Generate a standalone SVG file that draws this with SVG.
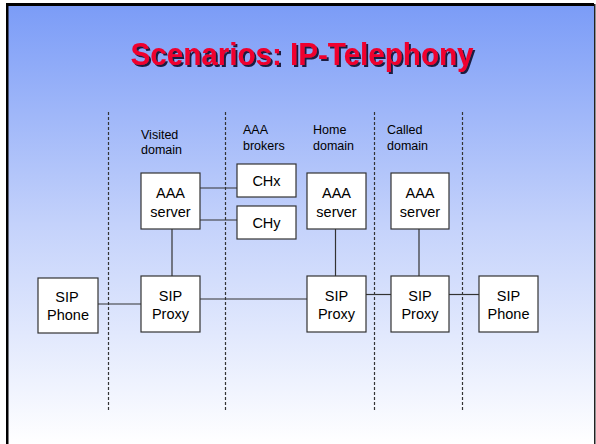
<svg xmlns="http://www.w3.org/2000/svg" width="596" height="444" viewBox="0 0 596 444">
<defs>
<linearGradient id="bg" x1="0" y1="0" x2="0" y2="1">
<stop offset="0" stop-color="#7b9cf7"/>
<stop offset="0.5" stop-color="#c4d2fb"/>
<stop offset="1" stop-color="#ffffff"/>
</linearGradient>
<filter id="sh" x="-5%" y="-20%" width="110%" height="140%">
<feDropShadow dx="2" dy="2" stdDeviation="0.3" flood-color="#1a1a40" flood-opacity="1"/>
</filter>
<style>
.box{fill:#ffffff;stroke:#333333;stroke-width:1.2}
.ln{stroke:#333333;stroke-width:1.2;fill:none}
.dash{stroke:#333333;stroke-width:1.2;stroke-dasharray:3,2;fill:none}
.t{font-family:"Liberation Sans",Arial,sans-serif;font-size:14.5px;fill:#000000;text-anchor:middle}
.lab{font-family:"Liberation Sans",Arial,sans-serif;font-size:12.5px;fill:#000000}
.title{font-family:"Liberation Sans",Arial,sans-serif;font-size:31px;font-weight:bold;text-anchor:middle;fill:#f0002e}
</style>
</defs>
<rect x="7" y="5" width="588" height="439" fill="url(#bg)"/>
<rect x="6" y="3" width="2.5" height="441" fill="#000000"/>
<rect x="6" y="3" width="588" height="3" fill="#000000"/>
<rect x="594" y="4" width="1.5" height="440" fill="#222222"/>
<g id="title">
<text class="title" x="302" y="65" filter="url(#sh)" textLength="343" lengthAdjust="spacingAndGlyphs">Scenarios: IP-Telephony</text>
</g>
<g id="separators">
<line class="dash" x1="108.5" y1="112" x2="108.5" y2="410"/>
<line class="dash" x1="225.5" y1="112" x2="225.5" y2="410"/>
<line class="dash" x1="374.5" y1="112" x2="374.5" y2="410"/>
<line class="dash" x1="462.5" y1="112" x2="462.5" y2="410"/>
</g>
<g id="labels">
<text class="lab" x="141" y="139">Visited</text>
<text class="lab" x="141" y="154">domain</text>
<text class="lab" x="243" y="134">AAA</text>
<text class="lab" x="243" y="150">brokers</text>
<text class="lab" x="313" y="134">Home</text>
<text class="lab" x="313" y="150">domain</text>
<text class="lab" x="387" y="134">Called</text>
<text class="lab" x="387" y="150">domain</text>
</g>
<g id="connectors">
<line class="ln" x1="200" y1="188" x2="237" y2="188"/>
<line class="ln" x1="200" y1="220" x2="237" y2="220"/>
<line class="ln" x1="172" y1="229" x2="172" y2="279"/>
<line class="ln" x1="335.5" y1="229" x2="335.5" y2="276"/>
<line class="ln" x1="419" y1="229" x2="419" y2="276"/>
<line class="ln" x1="98" y1="304" x2="141" y2="304"/>
<line class="ln" x1="200" y1="299" x2="307" y2="299"/>
<line class="ln" x1="366" y1="294.5" x2="391" y2="294.5"/>
<line class="ln" x1="449" y1="294.5" x2="479" y2="294.5"/>
</g>
<g id="aaa-visited">
<rect class="box" x="141" y="173" width="59" height="56"/>
<text class="t" x="170.5" y="198">AAA</text>
<text class="t" x="170.5" y="217">server</text>
</g>
<g id="chx">
<rect class="box" x="237" y="164" width="59" height="33"/>
<text class="t" x="266.5" y="186">CHx</text>
</g>
<g id="chy">
<rect class="box" x="237" y="206" width="59" height="33"/>
<text class="t" x="266.5" y="228">CHy</text>
</g>
<g id="aaa-home">
<rect class="box" x="307" y="173" width="59" height="56"/>
<text class="t" x="336.5" y="198">AAA</text>
<text class="t" x="336.5" y="217">server</text>
</g>
<g id="aaa-called">
<rect class="box" x="391" y="173" width="58" height="56"/>
<text class="t" x="420" y="198">AAA</text>
<text class="t" x="420" y="217">server</text>
</g>
<g id="phone-left">
<rect class="box" x="38" y="278" width="60" height="55"/>
<text class="t" x="67" y="302">SIP</text>
<text class="t" x="68" y="320">Phone</text>
</g>
<g id="proxy-visited">
<rect class="box" x="141" y="276" width="59" height="56"/>
<text class="t" x="170.5" y="301">SIP</text>
<text class="t" x="170.5" y="319">Proxy</text>
</g>
<g id="proxy-home">
<rect class="box" x="307" y="276" width="59" height="56"/>
<text class="t" x="336.5" y="301">SIP</text>
<text class="t" x="336.5" y="319">Proxy</text>
</g>
<g id="proxy-called">
<rect class="box" x="391" y="276" width="58" height="56"/>
<text class="t" x="420" y="301">SIP</text>
<text class="t" x="420" y="319">Proxy</text>
</g>
<g id="phone-right">
<rect class="box" x="479" y="276" width="59" height="56"/>
<text class="t" x="508.5" y="301">SIP</text>
<text class="t" x="508.5" y="319">Phone</text>
</g>
</svg>
